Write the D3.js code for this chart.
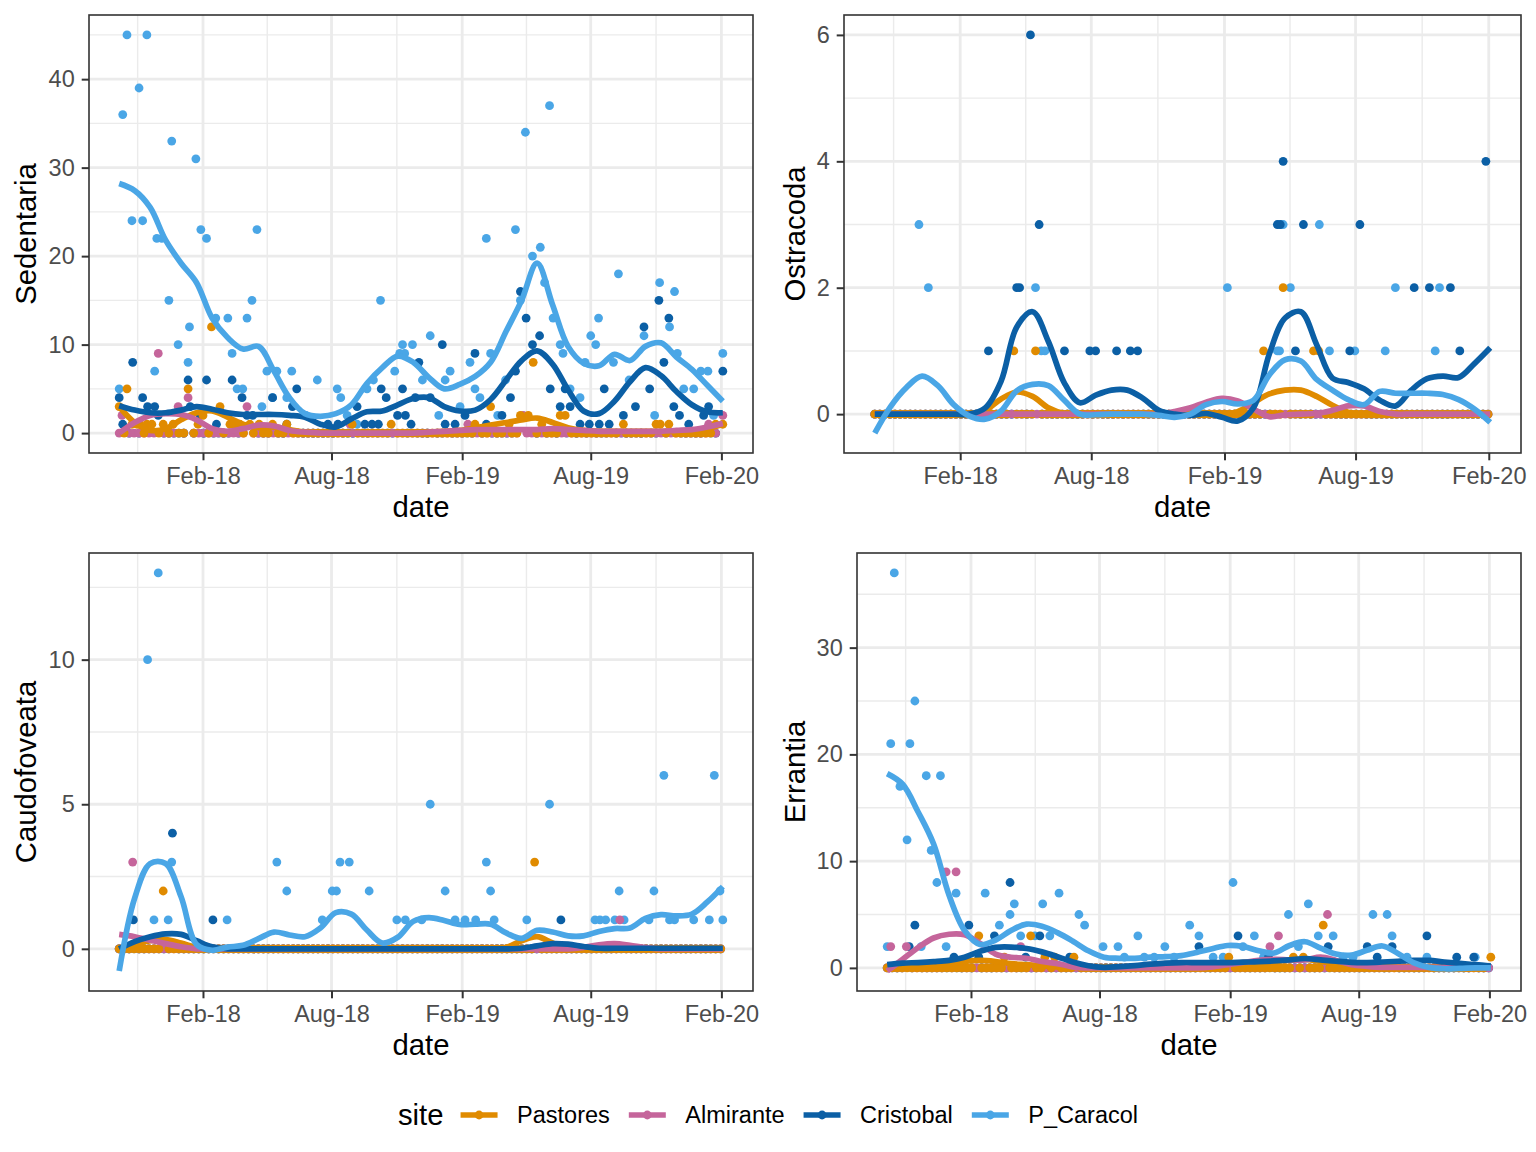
<!DOCTYPE html>
<html lang="en">
<head>
<meta charset="UTF-8">
<title>site counts</title>
<script src="https://d3js.org/d3.v7.min.js"></script>
<style>
  body { margin: 0; background: #fff; }
  svg text { font-family: "Liberation Sans", Arial, Helvetica, sans-serif; }
</style>
</head>
<body>
<svg width="1536" height="1152"></svg>
<script>
// sites and their colours
var sites = ["Pastores", "Almirante", "Cristobal", "P_Caracol"];
var siteColors = ["#E08B00", "#C5659B", "#0B5FA5", "#4AA6E6"];

// every site was sampled weekly between these two days
var firstSample = "2017-10-06";
var lastSample = "2020-02-03";

var taxa = ["Sedentaria", "Ostracoda", "Caudofoveata", "Errantia"];
var xTicks = ["2018-02-01", "2018-08-01", "2019-02-01", "2019-08-01", "2020-02-01"];
var sedTicks = [0, 10, 20, 30, 40];
var ostTicks = [0, 2, 4, 6];
var caudTicks = [0, 5, 10];
var errTicks = [0, 10, 20, 30];

// non-zero counts [date, count]; all other weekly samples counted 0
var sedPastores = [["2017-10-06",3],["2017-10-17",5],["2017-10-24",1],["2017-10-31",1],["2017-11-04",1],["2017-11-14",1],["2017-11-21",1],["2017-12-07",1],["2017-12-21",1],["2018-01-11",5],["2018-01-25",1],["2018-02-01",2],["2018-02-13",12],["2018-02-25",3],["2018-03-11",1],["2018-03-18",1],["2018-03-25",1],["2018-04-08",1],["2018-04-21",1],["2018-05-10",1],["2018-05-30",1],["2018-08-30",1],["2018-10-24",1],["2019-02-19",1],["2019-03-13",3],["2019-04-08",1],["2019-04-24",2],["2019-05-05",2],["2019-05-12",8],["2019-05-24",1],["2019-06-19",2],["2019-06-26",2],["2019-09-16",1],["2019-11-01",1],["2019-11-07",1],["2019-11-19",1],["2020-01-24",1],["2020-02-03",1]];
var sedAlmirante = [["2017-10-10",2],["2017-11-30",9],["2017-12-28",3],["2018-01-11",4],["2018-04-04",3],["2018-08-27",1],["2019-02-09",1],["2019-04-28",2],["2020-01-14",1],["2020-02-03",2]];
var sedCristobal = [["2017-10-06",4],["2017-10-11",1],["2017-10-25",8],["2017-11-08",4],["2017-11-15",3],["2017-11-25",3],["2017-11-30",2],["2018-01-11",6],["2018-01-14",3],["2018-01-28",2],["2018-02-06",6],["2018-02-20",1],["2018-03-14",6],["2018-03-28",4],["2018-04-04",2],["2018-04-12",2],["2018-05-10",4],["2018-05-30",1],["2018-06-07",3],["2018-06-13",5],["2018-07-27",1],["2018-08-10",1],["2018-09-06",3],["2018-09-17",1],["2018-09-27",1],["2018-10-06",1],["2018-10-10",5],["2018-10-17",4],["2018-11-02",2],["2018-11-09",5],["2018-11-13",2],["2018-11-21",1],["2018-11-27",4],["2018-12-02",8],["2018-12-18",4],["2019-01-04",10],["2019-01-08",1],["2019-01-22",1],["2019-02-05",2],["2019-02-19",9],["2019-03-07",1],["2019-03-29",2],["2019-04-10",4],["2019-04-17",7],["2019-04-24",16],["2019-05-02",13],["2019-05-11",10],["2019-05-21",11],["2019-06-05",5],["2019-06-19",3],["2019-06-26",5],["2019-07-03",3],["2019-07-17",1],["2019-07-30",1],["2019-08-13",1],["2019-08-20",5],["2019-08-27",1],["2019-09-16",2],["2019-10-03",3],["2019-10-15",12],["2019-10-23",5],["2019-11-05",15],["2019-11-12",8],["2019-11-19",13],["2019-11-26",3],["2019-12-04",2],["2019-12-17",1],["2020-01-07",2],["2020-01-14",3],["2020-02-03",7]];
var sedPCaracol = [["2017-10-06",5],["2017-10-11",36],["2017-10-17",45],["2017-10-24",24],["2017-11-03",39],["2017-11-08",24],["2017-11-14",45],["2017-11-25",7],["2017-11-28",22],["2017-12-05",22],["2017-12-15",15],["2017-12-19",33],["2017-12-28",10],["2018-01-11",8],["2018-01-13",12],["2018-01-22",31],["2018-01-29",23],["2018-02-06",22],["2018-02-19",13],["2018-03-08",13],["2018-03-14",9],["2018-03-21",5],["2018-03-29",5],["2018-04-04",13],["2018-04-11",15],["2018-04-18",23],["2018-04-25",3],["2018-05-02",7],["2018-05-10",4],["2018-05-16",7],["2018-05-30",4],["2018-06-06",7],["2018-06-26",2],["2018-07-12",6],["2018-08-09",5],["2018-08-14",4],["2018-08-23",2],["2018-09-06",1],["2018-09-20",5],["2018-09-29",6],["2018-10-09",15],["2018-10-29",7],["2018-11-05",9],["2018-11-09",10],["2018-11-12",9],["2018-11-23",10],["2018-12-07",6],["2018-12-18",11],["2018-12-30",2],["2019-01-08",6],["2019-01-15",7],["2019-01-29",3],["2019-02-12",8],["2019-02-19",5],["2019-02-26",4],["2019-03-07",22],["2019-03-13",9],["2019-03-23",2],["2019-04-03",6],["2019-04-17",23],["2019-04-24",15],["2019-05-01",34],["2019-05-11",20],["2019-05-22",21],["2019-05-28",17],["2019-06-04",37],["2019-06-09",13],["2019-06-19",10],["2019-06-23",9],["2019-07-03",5],["2019-07-17",4],["2019-07-24",8],["2019-08-01",11],["2019-08-08",10],["2019-08-12",13],["2019-09-02",8],["2019-09-09",18],["2019-09-24",6],["2019-10-15",11],["2019-10-30",2],["2019-11-06",17],["2019-11-20",12],["2019-11-27",16],["2019-12-01",9],["2019-12-10",5],["2019-12-24",5],["2020-01-03",7],["2020-01-13",7],["2020-01-21",2],["2020-02-03",9]];

var ostPastores = [["2018-04-16",1],["2018-05-16",1],["2019-03-27",1],["2019-04-23",2],["2019-06-04",1],["2019-06-11",1]];
var ostAlmirante = [];
var ostCristobal = [["2018-03-12",1],["2018-04-20",2],["2018-04-24",2],["2018-05-09",6],["2018-05-21",3],["2018-06-25",1],["2018-07-30",1],["2018-08-07",1],["2018-09-05",1],["2018-09-24",1],["2018-10-04",1],["2019-04-15",3],["2019-04-19",3],["2019-04-23",4],["2019-05-10",1],["2019-05-21",3],["2019-07-24",1],["2019-08-07",3],["2019-10-21",2],["2019-11-11",2],["2019-12-10",2],["2019-12-23",1],["2020-01-28",4]];
var ostPCaracol = [["2017-12-06",3],["2017-12-19",2],["2018-05-16",2],["2018-05-24",1],["2018-05-29",1],["2019-02-05",2],["2019-04-15",1],["2019-04-18",1],["2019-04-23",3],["2019-05-03",2],["2019-06-12",3],["2019-06-26",1],["2019-07-31",1],["2019-09-11",1],["2019-09-25",2],["2019-11-19",1],["2019-11-25",2]];

var caudPastores = [["2017-12-07",2],["2019-05-14",3]];
var caudAlmirante = [["2017-10-25",3],["2019-09-11",1]];
var caudCristobal = [["2017-10-26",1],["2017-12-20",4],["2018-02-15",1],["2019-06-20",1]];
var caudPCaracol = [["2017-11-15",10],["2017-11-24",1],["2017-11-30",13],["2017-12-14",1],["2017-12-19",3],["2018-03-07",1],["2018-05-16",3],["2018-05-30",2],["2018-07-19",1],["2018-08-02",2],["2018-08-08",2],["2018-08-13",3],["2018-08-26",3],["2018-09-23",2],["2018-11-01",1],["2018-11-13",1],["2018-12-06",1],["2018-12-18",5],["2019-01-08",2],["2019-01-22",1],["2019-02-05",1],["2019-02-20",1],["2019-03-07",3],["2019-03-13",2],["2019-03-18",1],["2019-05-03",1],["2019-06-04",5],["2019-08-07",1],["2019-08-14",1],["2019-08-22",1],["2019-09-04",1],["2019-09-10",2],["2019-09-17",1],["2019-10-22",1],["2019-10-29",2],["2019-11-12",6],["2019-11-20",1],["2019-11-27",1],["2019-12-24",1],["2020-01-15",1],["2020-01-22",6],["2020-01-30",2],["2020-02-03",1]];

var errPastores = [["2018-02-12",3],["2018-03-20",1],["2018-04-26",3],["2018-05-16",1],["2018-05-30",1],["2018-06-26",1],["2019-01-30",1],["2019-05-01",1],["2019-05-15",1],["2019-06-12",4],["2020-02-03",1]];
var errAlmirante = [["2017-10-11",2],["2017-11-02",2],["2017-12-28",9],["2018-01-11",9],["2018-04-12",2],["2019-03-29",2],["2019-04-10",3],["2019-06-18",5]];
var errCristobal = [["2017-11-06",2],["2017-11-14",4],["2018-01-08",1],["2018-01-29",4],["2018-02-12",1],["2018-03-06",3],["2018-03-28",8],["2018-04-19",1],["2018-05-09",3],["2018-06-20",1],["2018-12-19",2],["2019-02-12",3],["2019-03-27",1],["2019-06-19",2],["2019-08-13",2],["2019-08-27",1],["2019-09-17",2],["2019-11-05",3],["2019-12-17",1],["2020-01-10",1]];
var errPCaracol = [["2017-10-06",2],["2017-10-11",21],["2017-10-16",37],["2017-10-24",17],["2017-11-03",12],["2017-11-07",21],["2017-11-14",25],["2017-11-23",2],["2017-11-30",18],["2017-12-07",11],["2017-12-15",8],["2017-12-20",18],["2017-12-28",2],["2018-01-11",7],["2018-02-21",7],["2018-03-13",4],["2018-03-28",5],["2018-04-03",6],["2018-04-12",3],["2018-05-02",3],["2018-05-13",6],["2018-05-23",3],["2018-06-05",7],["2018-07-03",5],["2018-07-11",4],["2018-08-06",2],["2018-08-27",2],["2018-09-05",1],["2018-09-24",3],["2018-10-03",1],["2018-10-17",1],["2018-11-01",2],["2018-11-14",1],["2018-12-06",4],["2018-12-19",3],["2019-01-08",1],["2019-01-22",1],["2019-02-05",8],["2019-02-19",2],["2019-03-07",3],["2019-03-20",1],["2019-04-24",5],["2019-05-08",2],["2019-05-22",6],["2019-06-05",3],["2019-06-26",3],["2019-07-10",1],["2019-07-24",1],["2019-08-21",5],["2019-09-10",5],["2019-09-17",3],["2019-10-08",1],["2019-11-05",1],["2020-01-12",1]];

// smoothed trends, read at 40 evenly spaced dates from first to last sample
var sedSmoothPastores = [3.0,1.2,0.3,0.5,1.5,2.3,2.5,1.8,1.0,0.6,0.7,0.4,0.1,0,0,0,0,0,0,0.1,0.1,0.2,0.3,0.6,0.9,1.2,1.5,1.7,1.2,0.6,0.3,0.2,0.2,0.2,0.2,0.2,0.2,0.3,0.5,1.0];
var sedSmoothAlmirante = [0,1.2,2.0,2.2,2.1,1.5,0.5,0.2,0.5,0.9,0.8,0.3,0.1,0,0,0,0,0,0,0,0.1,0.2,0.3,0.4,0.4,0.4,0.4,0.4,0.5,0.4,0.3,0.2,0.2,0.2,0.2,0.2,0.3,0.4,0.7,1.1];
var sedSmoothCristobal = [3.1,2.6,2.3,2.3,2.6,3.0,2.7,2.3,2.1,2.1,2.1,2.0,1.8,1.0,0.7,1.6,2.4,2.5,3.2,3.9,4.0,3.0,2.5,2.6,3.8,6.0,8.2,9.3,7.8,4.9,2.5,2.2,3.6,5.8,7.4,6.5,4.7,3.2,2.4,2.3];
var sedSmoothPCaracol = [28.2,27.4,25.5,21.8,19.2,17.0,13.0,10.8,9.5,9.8,7.0,4.0,2.2,1.9,2.2,3.2,5.6,7.4,8.7,8.0,6.3,5.0,5.5,6.4,8.0,11.5,15.0,19.2,14.5,9.8,7.9,7.6,8.9,8.2,9.8,10.2,8.6,7.2,5.4,3.6];

var ostSmoothPastores = [0,0,0,0,0,0,0,0.06,0.24,0.35,0.28,0.10,0.01,0,0,0,0,0,0,0,0,0,0,0.04,0.18,0.32,0.38,0.38,0.28,0.14,0.03,0,0,0,0,0,0,0,0,0];
var ostSmoothAlmirante = [0,0,0,0,0,0,0,0,0,0,0,0,0,0,0,0,0,0,0,0.04,0.10,0.19,0.25,0.21,0.08,-0.04,-0.01,0,0.01,0.06,0.13,0.13,0.04,0,0,0,0,0,0,0];
var ostSmoothCristobal = [0,0,0,0,0,0,0,0.10,0.52,1.38,1.62,1.15,0.50,0.18,0.30,0.38,0.38,0.25,0.06,0,-0.02,0.01,-0.05,-0.11,0.10,0.95,1.52,1.62,1.10,0.57,0.50,0.40,0.22,0.13,0.38,0.56,0.60,0.58,0.80,1.05];
var ostSmoothPCaracol = [-0.30,0.12,0.42,0.60,0.45,0.15,-0.03,-0.08,0.05,0.37,0.47,0.45,0.22,0,-0.01,0,0,0,-0.02,-0.05,0,0.15,0.20,0.16,0.22,0.62,0.86,0.84,0.55,0.38,0.23,0.15,0.36,0.33,0.33,0.33,0.31,0.23,0.08,-0.13];

var caudSmoothPastores = [0,0.15,0.28,0.32,0.20,0.05,0,0,0,0,0,0,0,0,0,0,0,0,0,0,0,0,0,0,0,0.05,0.28,0.42,0.20,0.03,0,0,0,0,0,0,0,0,0,0];
var caudSmoothAlmirante = [0.50,0.42,0.30,0.18,0.07,0,0,0,0,0,0,0,0,0,0,0,0,0,0,0,0,0,0,0,0,0,0,0,0,0,0.05,0.14,0.18,0.12,0.04,0,0,0,0,0];
var caudSmoothCristobal = [0,0.25,0.42,0.52,0.50,0.28,0.07,0,0,0,0,0,0,0,0,0,0,0,0,0,0,0,0,0,0,0,0.02,0.10,0.18,0.16,0.08,0.02,0.02,0.02,0.02,0.02,0.02,0.02,0.02,0.02];
var caudSmoothPCaracol = [-0.77,1.75,2.95,2.95,1.80,0.15,-0.05,0.06,0.12,0.35,0.58,0.48,0.42,0.72,1.25,1.20,0.65,0.20,0.40,0.95,1.08,0.98,0.84,0.85,0.85,0.55,0.36,0.64,0.58,0.45,0.45,0.60,0.70,0.72,1.05,1.18,1.14,1.20,1.62,2.15];

var errSmoothPastores = [0,0.05,0.1,0.2,0.4,0.6,0.7,0.6,0.4,0.3,0.2,0.1,0.05,0.05,0.05,0.05,0.05,0.05,0.05,0.05,0.05,0.2,0.4,0.5,0.5,0.6,0.7,0.8,0.6,0.4,0.2,0.1,0.1,0.1,0.1,0.1,0.1,0.1,0.1,0.1];
var errSmoothAlmirante = [-0.30,0.8,1.9,2.8,3.15,3.1,2.3,1.3,1.0,0.9,0.6,0.4,0.1,0,0,0,0,0,0,0,0,0.1,0.3,0.5,0.7,0.8,0.75,0.75,1.0,0.7,0.3,0.15,0.05,0.05,0.05,0.05,0.05,0.05,0.05,0.05];
var errSmoothCristobal = [0.30,0.45,0.50,0.58,0.70,1.00,1.55,1.92,1.95,1.82,1.50,1.05,0.55,0.20,0.05,0.12,0.22,0.35,0.45,0.50,0.50,0.50,0.50,0.54,0.58,0.65,0.75,0.88,0.75,0.62,0.52,0.50,0.55,0.62,0.70,0.70,0.55,0.42,0.30,0.18];
var errSmoothPCaracol = [18.2,17.2,14.6,11.6,6.8,3.5,2.2,2.6,3.5,4.1,3.9,3.3,2.5,1.6,1.0,0.9,0.9,1.0,1.05,1.15,1.45,1.8,2.1,2.0,1.6,1.4,2.1,2.45,1.85,1.3,1.2,1.65,2.05,1.35,0.5,0.05,-0.08,-0.05,0,0];

// ---------------------------------------------------------------

var parse = d3.timeParse("%Y-%m-%d");
var fmt = d3.timeFormat("%b-%y");
var svg = d3.select("svg");
var W = +svg.attr("width");

var t0 = parse(firstSample), t1 = parse(lastSample);
var span = t1 - t0;
var xDomain = [new Date(+t0 - span * 0.05), new Date(+t1 + span * 0.05)];
var sampleDays = d3.timeDay.range(t0, d3.timeDay.offset(t1, 1), 7);
var smoothDates = d3.range(40).map(function (i) { return new Date(+t0 + span * i / 39); });

// x minor breaks sit half way between the major ones
var majors = xTicks.map(parse);
var ext = [d3.timeMonth.offset(majors[0], -6)].concat(majors, [d3.timeMonth.offset(majors[majors.length - 1], 6)]);
var xMinors = d3.range(ext.length - 1).map(function (i) { return new Date((+ext[i] + +ext[i + 1]) / 2); });

var panels = [
    {taxon: taxa[0], ticks: sedTicks, counts: [sedPastores, sedAlmirante, sedCristobal, sedPCaracol],
     smooth: [sedSmoothPastores, sedSmoothAlmirante, sedSmoothCristobal, sedSmoothPCaracol],
     box: {x0: 89, x1: 753, y0: 15, y1: 453, tx: 36}},
    {taxon: taxa[1], ticks: ostTicks, counts: [ostPastores, ostAlmirante, ostCristobal, ostPCaracol],
     smooth: [ostSmoothPastores, ostSmoothAlmirante, ostSmoothCristobal, ostSmoothPCaracol],
     box: {x0: 844, x1: 1521, y0: 15, y1: 453, tx: 805}},
    {taxon: taxa[2], ticks: caudTicks, counts: [caudPastores, caudAlmirante, caudCristobal, caudPCaracol],
     smooth: [caudSmoothPastores, caudSmoothAlmirante, caudSmoothCristobal, caudSmoothPCaracol],
     box: {x0: 89, x1: 753, y0: 553, y1: 991, tx: 36}},
    {taxon: taxa[3], ticks: errTicks, counts: [errPastores, errAlmirante, errCristobal, errPCaracol],
     smooth: [errSmoothPastores, errSmoothAlmirante, errSmoothCristobal, errSmoothPCaracol],
     box: {x0: 857, x1: 1521, y0: 553, y1: 991, tx: 805}}
];

// listed counts plus the zero samples of the weekly schedule
function observations(nonzero) {
    var rows = nonzero.map(function (d) { return {date: parse(d[0]), value: d[1]}; });
    var zeros = sampleDays.filter(function (day) {
        return !rows.some(function (r) { return Math.abs(r.date - day) < 3.5 * 864e5; });
    }).map(function (day) { return {date: day, value: 0}; });
    return zeros.concat(rows);
}

var line = d3.line()
    .x(function (d) { return d.x; })
    .y(function (d) { return d.y; })
    .curve(d3.curveCatmullRom.alpha(0.5));

panels.forEach(function (p, pi) {
    var b = p.box;
    var g = svg.append("g");
    var obs = p.counts.map(observations);

    var vals = [];
    obs.forEach(function (o) { o.forEach(function (d) { vals.push(d.value); }); });
    p.smooth.forEach(function (s) { vals = vals.concat(s); });
    var lo = d3.min(vals), hi = d3.max(vals), pad = (hi - lo) * 0.05;

    var x = d3.scaleTime().domain(xDomain).range([b.x0, b.x1]);
    var y = d3.scaleLinear().domain([lo - pad, hi + pad]).range([b.y1, b.y0]);

    // y minor breaks
    var step = p.ticks[1] - p.ticks[0];
    var yMinors = d3.range(p.ticks.length + 1).map(function (i) { return p.ticks[0] - step / 2 + i * step; })
        .filter(function (v) { return v > y.domain()[0] && v < y.domain()[1]; });

    g.append("rect").attr("x", b.x0).attr("y", b.y0)
        .attr("width", b.x1 - b.x0).attr("height", b.y1 - b.y0).attr("fill", "#fff");

    // grid
    var grid = g.append("g").attr("stroke", "#EBEBEB");
    grid.selectAll(".ymin").data(yMinors).enter().append("line")
        .attr("x1", b.x0).attr("x2", b.x1).attr("y1", y).attr("y2", y).attr("stroke-width", 1.4);
    grid.selectAll(".xmin").data(xMinors.filter(function (d) { return d > xDomain[0] && d < xDomain[1]; }))
        .enter().append("line")
        .attr("y1", b.y0).attr("y2", b.y1).attr("x1", x).attr("x2", x).attr("stroke-width", 1.4);
    grid.selectAll(".ymaj").data(p.ticks).enter().append("line")
        .attr("x1", b.x0).attr("x2", b.x1).attr("y1", y).attr("y2", y).attr("stroke-width", 2.8);
    grid.selectAll(".xmaj").data(majors).enter().append("line")
        .attr("y1", b.y0).attr("y2", b.y1).attr("x1", x).attr("x2", x).attr("stroke-width", 2.8);

    var clipId = "clip" + pi;
    g.append("clipPath").attr("id", clipId).append("rect")
        .attr("x", b.x0).attr("y", b.y0).attr("width", b.x1 - b.x0).attr("height", b.y1 - b.y0);
    var plot = g.append("g").attr("clip-path", "url(#" + clipId + ")");

    // points, Pastores drawn last
    [3, 2, 1, 0].forEach(function (si) {
        plot.append("g").selectAll("circle").data(obs[si]).enter().append("circle")
            .attr("cx", function (d) { return x(d.date); })
            .attr("cy", function (d) { return y(d.value); })
            .attr("r", 4.4)
            .attr("fill", siteColors[si]);
    });

    // smoothed trends
    [0, 1, 2, 3].forEach(function (si) {
        var pts = p.smooth[si].map(function (v, i) { return {x: x(smoothDates[i]), y: y(v)}; });
        plot.append("path").attr("d", line(pts))
            .attr("fill", "none")
            .attr("stroke", siteColors[si])
            .attr("stroke-width", 5.7)
            .attr("stroke-linejoin", "round");
    });

    g.append("rect").attr("x", b.x0).attr("y", b.y0)
        .attr("width", b.x1 - b.x0).attr("height", b.y1 - b.y0)
        .attr("fill", "none").attr("stroke", "#333333").attr("stroke-width", 1.6);

    // axes
    var ax = g.append("g").attr("transform", "translate(0," + b.y1 + ")")
        .call(d3.axisBottom(x).tickValues(majors).tickFormat(fmt)
            .tickSizeInner(7.3).tickSizeOuter(0).tickPadding(7));
    var ay = g.append("g").attr("transform", "translate(" + b.x0 + ",0)")
        .call(d3.axisLeft(y).tickValues(p.ticks).tickFormat(d3.format("d"))
            .tickSizeInner(7.3).tickSizeOuter(0).tickPadding(7));
    [ax, ay].forEach(function (a) {
        a.attr("font-family", null).attr("font-size", null);
        a.select(".domain").remove();
        a.selectAll("line").attr("stroke", "#333333").attr("stroke-width", 2);
        a.selectAll("text").attr("fill", "#4D4D4D").style("font-size", "23.5px");
    });

    // titles
    g.append("text").attr("x", (b.x0 + b.x1) / 2).attr("y", b.y1 + 64)
        .attr("text-anchor", "middle").style("font-size", "29.3px").attr("fill", "#000")
        .text("date");
    g.append("text")
        .attr("transform", "translate(" + b.tx + "," + (b.y0 + b.y1) / 2 + ") rotate(-90)")
        .attr("text-anchor", "middle").style("font-size", "29.3px").attr("fill", "#000")
        .text(p.taxon);
});

// legend
var leg = svg.append("g");
var title = leg.append("text").attr("x", 0).attr("y", 0).attr("dy", "0.35em")
    .style("font-size", "29.3px").text("site");
var cursor = title.node().getComputedTextLength() + 17;
sites.forEach(function (s, i) {
    leg.append("line").attr("x1", cursor).attr("x2", cursor + 37).attr("y1", 0).attr("y2", 0)
        .attr("stroke", siteColors[i]).attr("stroke-width", 5.7);
    leg.append("circle").attr("cx", cursor + 18.5).attr("cy", 0).attr("r", 4.4).attr("fill", siteColors[i]);
    cursor += 37 + 19.5;
    var t = leg.append("text").attr("x", cursor).attr("y", 0).attr("dy", "0.35em")
        .style("font-size", "23.5px").text(s);
    cursor += t.node().getComputedTextLength() + (i < sites.length - 1 ? 19 : 0);
});
leg.attr("transform", "translate(" + (W - cursor) / 2 + ",1115)");
</script>
</body>
</html>
